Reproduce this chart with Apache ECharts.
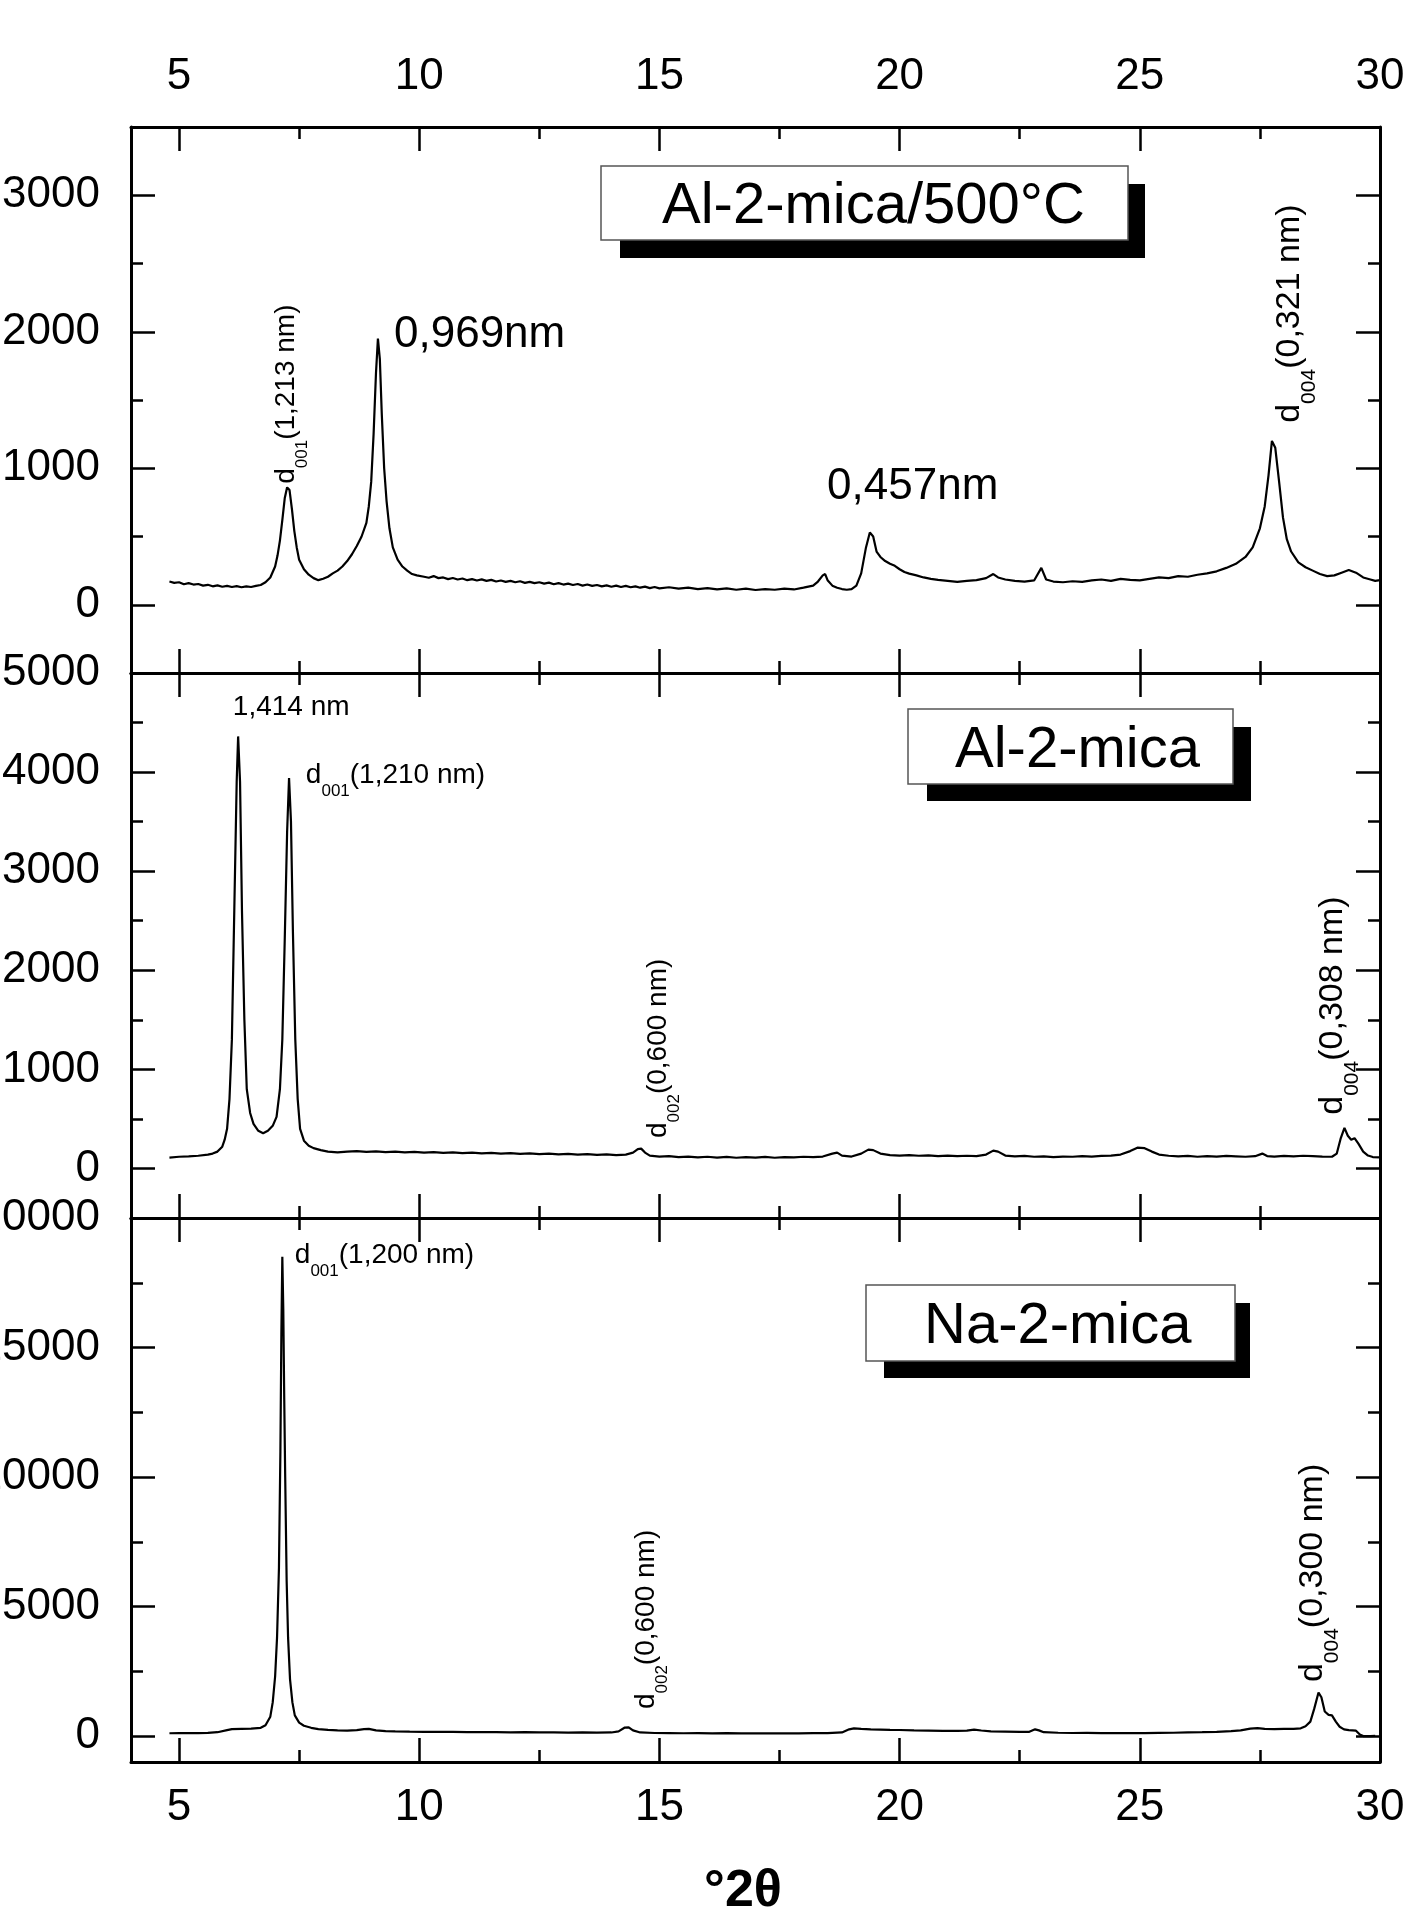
<!DOCTYPE html>
<html><head><meta charset="utf-8">
<script src="https://cdn.jsdelivr.net/npm/echarts@6/dist/echarts.min.js"></script>
<style>html,body{margin:0;padding:0;background:#fff}#c{width:1415px;height:1926px}</style>
</head><body><div id="c"></div>
<script>
// ---------- data ----------
const xRange = [4, 30];
const xTicksMajor = [5, 10, 15, 20, 25, 30];
const xTicksMinor = [7.5, 12.5, 17.5, 22.5, 27.5];
const panelNames = ['Al-2-mica/500°C', 'Al-2-mica', 'Na-2-mica'];
const yRanges = [[-500, 3500], [-500, 5000], [-1000, 20000]];
const yMajorTicks = [[0, 1000, 2000, 3000], [0, 1000, 2000, 3000, 4000, 5000], [0, 5000, 10000, 15000, 20000]];
const yMinorTicks = [[500, 1500, 2500], [500, 1500, 2500, 3500, 4500], [2500, 7500, 12500, 17500]];
const xTitle = '°2θ';

// [2theta, counts]
const al2mica500 = [[4.8,170],[4.9,160],[5.0,165],[5.1,150],[5.2,158],[5.3,148],[5.4,152],[5.5,140],[5.6,146],[5.7,135],[5.8,142],[5.9,132],[6.0,138],[6.1,130],[6.2,136],[6.3,128],[6.4,134],[6.5,130],[6.6,138],[6.7,145],[6.8,165],[6.9,200],[7.0,280],[7.05,360],[7.1,470],[7.15,620],[7.2,780],[7.25,860],[7.3,840],[7.35,700],[7.4,540],[7.45,420],[7.5,330],[7.6,260],[7.7,220],[7.8,195],[7.9,180],[8.0,190],[8.1,205],[8.2,230],[8.3,250],[8.4,280],[8.5,320],[8.6,370],[8.7,430],[8.8,500],[8.9,600],[8.95,720],[9.0,900],[9.05,1250],[9.1,1700],[9.14,1950],[9.18,1800],[9.22,1400],[9.27,1000],[9.32,760],[9.38,560],[9.45,420],[9.55,330],[9.65,280],[9.75,250],[9.85,225],[9.95,215],[10.1,205],[10.2,198],[10.3,210],[10.4,195],[10.5,200],[10.6,188],[10.7,196],[10.8,185],[10.9,192],[11.0,180],[11.1,188],[11.2,178],[11.3,186],[11.4,175],[11.5,182],[11.6,170],[11.7,178],[11.8,168],[11.9,175],[12.0,165],[12.1,172],[12.2,160],[12.3,168],[12.4,158],[12.5,165],[12.6,155],[12.7,162],[12.8,150],[12.9,158],[13.0,148],[13.1,155],[13.2,145],[13.3,152],[13.4,140],[13.5,148],[13.6,138],[13.7,145],[13.8,135],[13.9,142],[14.0,132],[14.1,140],[14.2,130],[14.3,138],[14.4,128],[14.5,135],[14.6,125],[14.7,133],[14.8,122],[14.9,130],[15.0,120],[15.2,128],[15.4,118],[15.6,125],[15.8,115],[16.0,122],[16.2,112],[16.4,120],[16.6,110],[16.8,118],[17.0,108],[17.2,115],[17.4,110],[17.6,118],[17.8,112],[18.0,125],[18.2,140],[18.3,170],[18.4,215],[18.45,225],[18.5,180],[18.6,140],[18.7,125],[18.8,115],[18.9,110],[19.0,115],[19.1,140],[19.2,230],[19.3,420],[19.38,530],[19.45,500],[19.52,390],[19.6,350],[19.7,320],[19.8,300],[19.9,285],[20.0,260],[20.1,240],[20.2,228],[20.35,215],[20.5,200],[20.65,190],[20.8,182],[21.0,175],[21.2,168],[21.4,175],[21.6,180],[21.8,195],[21.95,225],[22.05,200],[22.2,185],[22.4,175],[22.6,170],[22.8,178],[22.95,270],[23.05,185],[23.2,170],[23.4,165],[23.6,172],[23.8,168],[24.0,178],[24.2,185],[24.4,175],[24.6,190],[24.8,182],[25.0,178],[25.2,190],[25.4,200],[25.6,195],[25.8,210],[26.0,205],[26.2,220],[26.4,230],[26.6,245],[26.8,270],[27.0,300],[27.2,350],[27.35,420],[27.5,560],[27.6,720],[27.68,950],[27.75,1200],[27.82,1150],[27.9,900],[27.98,640],[28.06,480],[28.15,390],[28.3,310],[28.45,275],[28.6,250],[28.75,225],[28.9,210],[29.05,215],[29.2,235],[29.35,255],[29.5,235],[29.65,200],[29.8,185],[29.9,175],[30.0,180]];

const al2mica = [[4.8,110],[5.0,118],[5.2,122],[5.4,128],[5.6,140],[5.7,150],[5.8,170],[5.9,220],[5.95,290],[6.0,400],[6.05,700],[6.1,1300],[6.15,2600],[6.2,3900],[6.23,4360],[6.27,3900],[6.31,2600],[6.36,1500],[6.41,800],[6.48,560],[6.55,450],[6.65,380],[6.75,355],[6.85,380],[6.95,430],[7.03,520],[7.1,800],[7.15,1300],[7.2,2300],[7.25,3400],[7.29,3940],[7.33,3500],[7.37,2400],[7.42,1300],[7.47,700],[7.52,400],[7.6,280],[7.7,230],[7.8,205],[7.95,185],[8.1,170],[8.3,162],[8.5,170],[8.7,175],[8.9,168],[9.1,172],[9.3,165],[9.5,170],[9.7,162],[9.9,168],[10.1,160],[10.3,165],[10.5,158],[10.7,162],[10.9,155],[11.1,160],[11.3,152],[11.5,158],[11.7,150],[11.9,155],[12.1,148],[12.3,152],[12.5,145],[12.7,150],[12.9,142],[13.1,148],[13.3,140],[13.5,145],[13.7,138],[13.9,142],[14.1,135],[14.3,140],[14.45,160],[14.55,195],[14.62,200],[14.7,160],[14.8,130],[15.0,120],[15.2,125],[15.4,115],[15.6,120],[15.8,112],[16.0,118],[16.2,110],[16.4,116],[16.6,108],[16.8,114],[17.0,110],[17.2,116],[17.4,108],[17.6,115],[17.8,112],[18.0,118],[18.2,114],[18.4,120],[18.6,150],[18.7,160],[18.8,130],[19.0,120],[19.2,150],[19.35,190],[19.45,185],[19.6,150],[19.8,135],[20.0,130],[20.2,135],[20.4,128],[20.6,132],[20.8,125],[21.0,130],[21.2,124],[21.4,128],[21.6,125],[21.8,140],[21.95,180],[22.05,170],[22.2,130],[22.4,122],[22.6,126],[22.8,118],[23.0,122],[23.2,115],[23.4,120],[23.6,118],[23.8,124],[24.0,120],[24.2,126],[24.4,130],[24.6,140],[24.8,175],[24.95,210],[25.1,205],[25.25,170],[25.4,140],[25.6,128],[25.8,122],[26.0,126],[26.2,118],[26.4,124],[26.6,120],[26.8,126],[27.0,122],[27.2,118],[27.4,124],[27.55,150],[27.65,125],[27.8,120],[28.0,126],[28.2,122],[28.4,128],[28.6,125],[28.8,120],[29.0,118],[29.1,150],[29.18,300],[29.26,410],[29.33,330],[29.4,290],[29.47,305],[29.55,250],[29.65,170],[29.75,130],[29.85,115],[30.0,112]];

const na2mica = [[4.8,110],[5.0,115],[5.2,120],[5.4,118],[5.6,125],[5.8,150],[6.0,230],[6.1,270],[6.3,280],[6.5,290],[6.7,320],[6.8,420],[6.9,750],[6.95,1300],[7.0,2300],[7.04,3800],[7.08,6500],[7.11,11000],[7.13,15500],[7.15,18500],[7.17,16500],[7.19,13000],[7.21,10000],[7.24,6000],[7.27,3800],[7.31,2200],[7.36,1300],[7.41,800],[7.5,520],[7.6,400],[7.75,320],[7.9,270],[8.1,240],[8.3,220],[8.5,210],[8.7,230],[8.85,270],[8.95,280],[9.1,220],[9.3,190],[9.5,180],[9.8,170],[10.1,165],[10.4,160],[10.7,165],[11.0,155],[11.3,150],[11.6,155],[11.9,145],[12.2,150],[12.5,140],[12.8,145],[13.1,135],[13.4,140],[13.7,135],[14.0,140],[14.15,180],[14.28,330],[14.36,340],[14.45,220],[14.6,140],[14.9,120],[15.2,115],[15.5,110],[15.8,115],[16.1,108],[16.4,112],[16.7,105],[17.0,110],[17.3,105],[17.6,110],[17.9,108],[18.2,115],[18.5,112],[18.8,140],[18.95,260],[19.05,300],[19.2,280],[19.4,260],[19.6,250],[19.8,240],[20.0,235],[20.3,220],[20.6,215],[20.9,205],[21.2,200],[21.4,210],[21.55,250],[21.7,215],[21.9,180],[22.2,170],[22.5,160],[22.7,165],[22.82,260],[22.9,220],[23.0,150],[23.3,130],[23.6,120],[23.9,125],[24.2,115],[24.5,120],[24.8,112],[25.1,118],[25.4,125],[25.7,130],[26.0,140],[26.3,150],[26.6,165],[26.9,190],[27.1,220],[27.3,290],[27.45,310],[27.6,280],[27.8,270],[28.0,275],[28.2,280],[28.35,300],[28.45,380],[28.55,560],[28.63,1050],[28.72,1680],[28.78,1500],[28.85,950],[28.93,820],[29.0,800],[29.08,560],[29.16,360],[29.25,260],[29.35,230],[29.5,210],[29.58,60],[29.65,0],[29.8,0],[29.9,10]];

const seriesData = [al2mica500, al2mica, na2mica];

// peak annotations: [main, subscript, rest]
const peakTexts = [
  [ {t:['', '', '0,969nm'], at:[9.475, 1974], rot:0, size:44, va:'middle'},
    {t:['', '', '0,457nm'], at:[18.49, 861], rot:0, size:44, va:'middle'},
    {t:['d', '001', '(1,213 nm)'], at:[6.935, 886], rot:90, size:28, va:'top'},
    {t:['d', '004', '(0,321 nm)'], at:[27.77, 1333], rot:90, size:34, va:'top'} ],
  [ {t:['', '', '1,414 nm'], at:[6.12, 4651], rot:0, size:28, va:'middle'},
    {t:['d', '001', '(1,210 nm)'], at:[7.64, 4111], rot:0, size:28, va:'top'},
    {t:['d', '002', '(0,600 nm)'], at:[14.68, 307], rot:90, size:28, va:'top'},
    {t:['d', '004', '(0,308 nm)'], at:[28.67, 542], rot:90, size:34, va:'top'} ],
  [ {t:['d', '001', '(1,200 nm)'], at:[7.41, 19112], rot:0, size:28, va:'top'},
    {t:['d', '002', '(0,600 nm)'], at:[14.43, 1042], rot:90, size:28, va:'top'},
    {t:['d', '004', '(0,300 nm)'], at:[28.25, 2085], rot:90, size:34, va:'top'} ]
];

// ---------- chart ----------
const FONT = '"Liberation Sans", Arial, Helvetica, sans-serif';
const grids = [
  {left: 131, right: 35, top: 127, height: 546, outerBoundsMode: 'none', containLabel: false},
  {left: 131, right: 35, top: 673, height: 545, outerBoundsMode: 'none', containLabel: false},
  {left: 131, right: 35, top: 1218, height: 544, outerBoundsMode: 'none', containLabel: false}
];
const boxes = [
  {left: 601, top: 166, padding: [12, 43, 4, 61], shadow: [620, 184, 525, 74]},
  {left: 908, top: 709, padding: [13, 33, 4, 47], shadow: [927, 727, 324, 74]},
  {left: 866, top: 1285, padding: [13, 44, 5, 58], shadow: [884, 1303, 366, 75]}
];

const tickStyle = {color: '#000', width: 2.5};
const lineStyle = {color: '#000', width: 3};
const labelBase = {fontSize: 44, color: '#000', fontFamily: FONT, formatter: v => String(v)};

const xAxis = [], yAxis = [];
grids.forEach((g, gi) => {
  const xb = {gridIndex: gi, type: 'value', min: xRange[0], max: xRange[1], splitLine: {show: false}};
  xAxis.push(Object.assign({}, xb, {position: 'bottom',
    axisLine: {show: true, onZero: false, lineStyle},
    axisTick: {show: true, inside: true, length: 24, customValues: xTicksMajor, lineStyle: tickStyle},
    axisLabel: Object.assign({show: gi === 2, customValues: xTicksMajor, margin: 24}, labelBase),
    name: gi === 2 ? xTitle : '', nameLocation: 'middle', nameGap: 104,
    nameTextStyle: {fontSize: 52, fontWeight: 'bold', color: '#000', fontFamily: FONT, padding: [0, 25, 0, 0]}}));
  xAxis.push(Object.assign({}, xb, {position: 'bottom',
    axisLine: {show: false, onZero: false},
    axisTick: {show: true, inside: true, length: 12, customValues: xTicksMinor, lineStyle: tickStyle},
    axisLabel: {show: false}}));
  xAxis.push(Object.assign({}, xb, {position: 'top',
    axisLine: {show: true, onZero: false, lineStyle},
    axisTick: {show: true, inside: true, length: 24, customValues: xTicksMajor, lineStyle: tickStyle},
    axisLabel: Object.assign({show: gi === 0, customValues: xTicksMajor, margin: 28}, labelBase)}));
  xAxis.push(Object.assign({}, xb, {position: 'top',
    axisLine: {show: false, onZero: false},
    axisTick: {show: true, inside: true, length: 12, customValues: xTicksMinor, lineStyle: tickStyle},
    axisLabel: {show: false}}));

  const yb = {gridIndex: gi, type: 'value', min: yRanges[gi][0], max: yRanges[gi][1], splitLine: {show: false}};
  yAxis.push(Object.assign({}, yb, {position: 'left',
    axisLine: {show: true, onZero: false, lineStyle},
    axisTick: {show: true, inside: true, length: 24, customValues: yMajorTicks[gi], lineStyle: tickStyle},
    axisLabel: Object.assign({show: true, customValues: yMajorTicks[gi], margin: 31}, labelBase)}));
  yAxis.push(Object.assign({}, yb, {position: 'left',
    axisLine: {show: false, onZero: false},
    axisTick: {show: true, inside: true, length: 12, customValues: yMinorTicks[gi], lineStyle: tickStyle},
    axisLabel: {show: false}}));
  yAxis.push(Object.assign({}, yb, {position: 'right',
    axisLine: {show: true, onZero: false, lineStyle},
    axisTick: {show: true, inside: true, length: 24, customValues: yMajorTicks[gi], lineStyle: tickStyle},
    axisLabel: {show: false}}));
  yAxis.push(Object.assign({}, yb, {position: 'right',
    axisLine: {show: false, onZero: false},
    axisTick: {show: true, inside: true, length: 12, customValues: yMinorTicks[gi], lineStyle: tickStyle},
    axisLabel: {show: false}}));
});

function richFor(F) {
  const S = Math.round(F * 0.62);
  return {
    m: {fontSize: F, lineHeight: F, verticalAlign: 'top', color: '#000', fontFamily: FONT},
    s: {fontSize: S, lineHeight: S, verticalAlign: 'top', padding: [Math.round(F * 0.775), 0, 0, 0], color: '#000', fontFamily: FONT}
  };
}
function markData(list) {
  return list.map(a => {
    const parts = a.t;
    let fmt = '';
    if (parts[0]) fmt += '{m|' + parts[0] + '}';
    if (parts[1]) fmt += '{s|' + parts[1] + '}';
    fmt += '{m|' + parts[2] + '}';
    return {
      coord: a.at,
      label: {show: true, position: 'inside', formatter: fmt, rich: richFor(a.size),
        rotate: a.rot, align: 'left', verticalAlign: a.va}
    };
  });
}

const series = seriesData.map((d, gi) => ({
  type: 'line', name: panelNames[gi], xAxisIndex: gi * 4, yAxisIndex: gi * 4,
  data: d, showSymbol: false, symbol: 'none', animation: false,
  lineStyle: {color: '#000', width: 2.2},
  markPoint: {symbol: 'circle', symbolSize: 1, silent: true, animation: false,
    itemStyle: {color: 'rgba(0,0,0,0)'},
    data: markData(peakTexts[gi])}
}));

const title = panelNames.map((n, i) => ({
  text: n, left: boxes[i].left, top: boxes[i].top, padding: boxes[i].padding, z: 10,
  backgroundColor: '#fff', borderColor: '#555', borderWidth: 1.5,
  textStyle: {fontSize: 58, fontWeight: 'normal', lineHeight: 58, color: '#000', fontFamily: FONT}
}));

const graphic = boxes.map(b => ({
  type: 'rect', z: 5, silent: true,
  shape: {x: b.shadow[0], y: b.shadow[1], width: b.shadow[2], height: b.shadow[3]},
  style: {fill: '#000'}
}));

const chart = echarts.init(document.getElementById('c'), null, {renderer: 'canvas'});
chart.setOption({
  backgroundColor: '#fff', animation: false,
  title, graphic, grid: grids, xAxis, yAxis, series
});
</script>
</body></html>
